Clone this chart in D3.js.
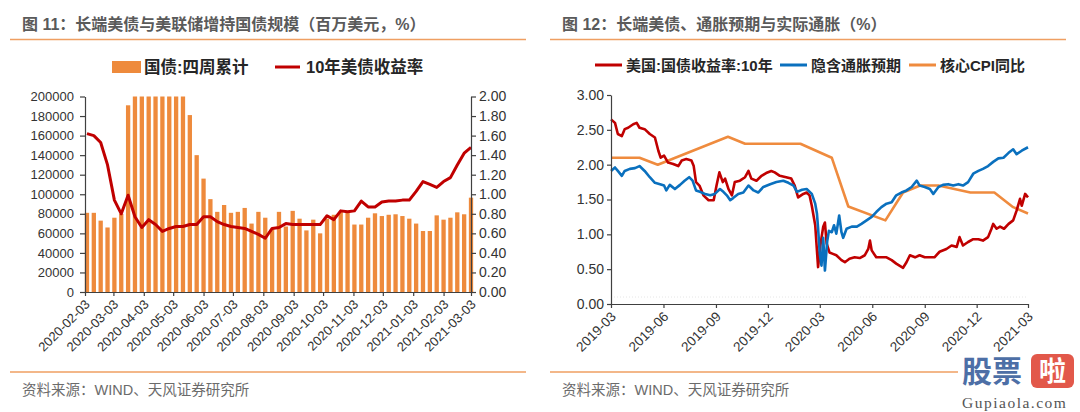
<!DOCTYPE html>
<html><head><meta charset="utf-8">
<script src="https://cdn.jsdelivr.net/npm/d3@7"></script>
<style>
html,body{margin:0;padding:0;background:#fff;}
svg{display:block;}
</style></head>
<body>
<svg id="c" width="1080" height="412"></svg>
<script>
// ---------- Chart 11 data ----------
const weekDates = ["2020-02-05","2020-02-12","2020-02-19","2020-02-26","2020-03-04","2020-03-11","2020-03-18","2020-03-25",
"2020-04-01","2020-04-08","2020-04-15","2020-04-22","2020-04-29","2020-05-06","2020-05-13","2020-05-20","2020-05-27",
"2020-06-03","2020-06-10","2020-06-17","2020-06-24","2020-07-01","2020-07-08","2020-07-15","2020-07-22","2020-07-29",
"2020-08-05","2020-08-12","2020-08-19","2020-08-26","2020-09-02","2020-09-09","2020-09-16","2020-09-23","2020-09-30",
"2020-10-07","2020-10-14","2020-10-21","2020-10-28","2020-11-04","2020-11-11","2020-11-18","2020-11-25","2020-12-02",
"2020-12-09","2020-12-16","2020-12-23","2020-12-30","2021-01-06","2021-01-13","2021-01-20","2021-01-27","2021-02-03",
"2021-02-10","2021-02-17","2021-02-24","2021-03-03"];
const treasury4w = [81000,81000,73000,66000,76000,80000,191000,200000,200000,200000,200000,200000,200000,200000,200000,
181000,140000,116000,95000,82000,89000,81000,82000,86000,70000,82000,76000,64000,82000,67000,83000,75000,63000,74000,60000,
75000,79000,82000,82000,69000,69000,76000,80500,77700,79000,79500,77700,75000,70000,62400,62400,78400,74000,76000,81500,79500,96500];
const yield10w = [1.62,1.60,1.53,1.30,0.94,0.80,0.99,0.77,0.66,0.74,0.69,0.62,0.65,0.67,0.67,0.69,0.69,0.77,0.77,0.72,
0.69,0.67,0.66,0.65,0.62,0.59,0.55,0.65,0.66,0.70,0.69,0.69,0.69,0.69,0.69,0.78,0.74,0.83,0.82,0.83,0.93,0.87,0.87,0.92,
0.93,0.93,0.94,0.94,1.03,1.13,1.10,1.07,1.13,1.17,1.30,1.42,1.48];
const leftYTicks = [0,20000,40000,60000,80000,100000,120000,140000,160000,180000,200000];
const rightYTicks = [0,0.2,0.4,0.6,0.8,1.0,1.2,1.4,1.6,1.8,2.0];
const leftXTicks = ["2020-02-03","2020-03-03","2020-04-03","2020-05-03","2020-06-03","2020-07-03","2020-08-03",
"2020-09-03","2020-10-03","2020-11-03","2020-12-03","2021-01-03","2021-02-03","2021-03-03"];

// ---------- Chart 12 data ----------
const ustDates = ["2019-03-01","2019-03-08","2019-03-13","2019-03-20","2019-03-25","2019-03-31","2019-04-09","2019-04-15",
"2019-04-20","2019-04-29","2019-05-08","2019-05-17","2019-05-23","2019-05-27","2019-06-02","2019-06-09","2019-06-18",
"2019-06-27","2019-07-03","2019-07-11","2019-07-20","2019-07-24","2019-07-28","2019-08-03","2019-08-10","2019-08-19",
"2019-08-28","2019-09-02","2019-09-07","2019-09-13","2019-09-17","2019-09-23","2019-09-29","2019-10-04","2019-10-13",
"2019-10-22","2019-10-28","2019-11-02","2019-11-11","2019-11-20","2019-11-28","2019-12-07","2019-12-13","2019-12-22",
"2020-01-02","2020-01-11","2020-01-17","2020-01-23","2020-02-01","2020-02-07","2020-02-12","2020-02-16","2020-02-22",
"2020-02-27","2020-03-02","2020-03-07","2020-03-10","2020-03-13","2020-03-18","2020-03-24","2020-03-30","2020-04-08",
"2020-04-14","2020-04-22","2020-05-01","2020-05-10","2020-05-19","2020-05-25","2020-05-28","2020-05-31","2020-06-08",
"2020-06-17","2020-06-26","2020-07-05","2020-07-13","2020-07-25","2020-07-31","2020-08-06","2020-08-15","2020-08-23",
"2020-09-01","2020-09-10","2020-09-18","2020-09-27","2020-10-09","2020-10-18","2020-10-27","2020-11-01","2020-11-07",
"2020-11-16","2020-11-25","2020-12-04","2020-12-12","2020-12-21","2020-12-27","2020-12-30","2021-01-05","2021-01-11",
"2021-01-18","2021-01-26","2021-02-03","2021-02-09","2021-02-15","2021-02-18","2021-02-24","2021-03-01"];
const ustVals = [2.65,2.60,2.44,2.41,2.51,2.53,2.58,2.60,2.53,2.51,2.44,2.39,2.20,2.10,2.13,2.03,2.01,1.98,2.06,2.08,2.06,
1.98,1.75,1.70,1.56,1.49,1.49,1.70,1.89,1.75,1.80,1.65,1.56,1.75,1.77,1.82,1.91,1.80,1.77,1.84,1.88,1.91,1.89,1.84,1.82,
1.80,1.70,1.53,1.58,1.60,1.56,1.41,1.13,0.53,0.84,1.11,1.17,0.87,0.74,0.72,0.70,0.63,0.60,0.65,0.67,0.66,0.70,0.79,0.91,
0.77,0.67,0.67,0.67,0.63,0.58,0.52,0.60,0.70,0.67,0.70,0.67,0.67,0.67,0.75,0.79,0.84,0.82,0.96,0.84,0.89,0.93,0.93,0.91,
0.96,1.08,1.15,1.08,1.11,1.08,1.15,1.20,1.34,1.51,1.41,1.58,1.53];
const bkeDates = ["2019-03-01","2019-03-08","2019-03-13","2019-03-20","2019-03-25","2019-04-03","2019-04-12","2019-04-20",
"2019-04-29","2019-05-08","2019-05-17","2019-05-26","2019-06-02","2019-06-06","2019-06-12","2019-06-21","2019-06-30",
"2019-07-08","2019-07-16","2019-07-22","2019-07-28","2019-08-04","2019-08-13","2019-08-22","2019-08-30","2019-09-08",
"2019-09-14","2019-09-20","2019-09-26","2019-10-01","2019-10-10","2019-10-19","2019-10-28","2019-11-06","2019-11-14",
"2019-11-23","2019-12-05","2019-12-16","2019-12-28","2020-01-06","2020-01-15","2020-01-21","2020-01-30","2020-02-07",
"2020-02-16","2020-02-22","2020-02-25","2020-02-27","2020-03-01","2020-03-04","2020-03-07","2020-03-10","2020-03-14",
"2020-03-17","2020-03-22","2020-03-26","2020-03-30","2020-04-04","2020-04-08","2020-04-11","2020-04-17","2020-04-26",
"2020-05-05","2020-05-13","2020-05-22","2020-05-31","2020-06-08","2020-06-17","2020-06-26","2020-07-05","2020-07-13",
"2020-07-22","2020-07-31","2020-08-09","2020-08-18","2020-08-23","2020-09-01","2020-09-10","2020-09-16","2020-09-25",
"2020-10-03","2020-10-12","2020-10-21","2020-10-30","2020-11-07","2020-11-16","2020-11-25","2020-12-04","2020-12-12",
"2020-12-21","2020-12-30","2021-01-08","2021-01-17","2021-01-26","2021-02-03","2021-02-09","2021-02-18","2021-03-01"];
const bkeVals = [1.91,1.96,1.91,1.84,1.91,1.94,1.95,1.98,1.91,1.82,1.74,1.72,1.70,1.63,1.71,1.65,1.71,1.77,1.82,1.77,1.63,
1.61,1.58,1.56,1.58,1.65,1.61,1.56,1.49,1.52,1.58,1.60,1.70,1.63,1.60,1.68,1.72,1.75,1.77,1.74,1.70,1.61,1.64,1.65,1.58,
1.44,1.30,1.09,0.72,0.55,0.95,0.48,0.90,1.05,1.03,1.13,1.01,1.27,1.03,0.95,1.08,1.11,1.11,1.15,1.20,1.25,1.32,1.39,1.44,
1.46,1.56,1.60,1.63,1.68,1.77,1.70,1.68,1.65,1.58,1.68,1.71,1.72,1.70,1.72,1.70,1.75,1.87,1.91,1.94,1.98,2.04,2.09,2.10,
2.17,2.22,2.15,2.20,2.25];
const cpiDates = ["2019-03-01","2019-04-20","2019-05-22","2019-09-22","2019-10-22","2020-01-27","2020-03-22","2020-04-20",
"2020-06-24","2020-07-25","2020-08-24","2020-09-25","2020-11-20","2021-01-01","2021-02-03","2021-03-01"];
const cpiVals = [2.10,2.10,2.00,2.40,2.30,2.30,2.10,1.40,1.20,1.60,1.70,1.70,1.60,1.60,1.39,1.30];
const rYTicks = [0,0.5,1.0,1.5,2.0,2.5,3.0];
const rXTicks = ["2019-03","2019-06","2019-09","2019-12","2020-03","2020-06","2020-09","2020-12","2021-03"];

// ---------- drawing ----------
const parse = d3.timeParse("%Y-%m-%d");
const parseM = d3.timeParse("%Y-%m");
const FONT = "'Liberation Sans', 'Noto Sans CJK SC', Arial, sans-serif";
const ORANGE = "#EE8A3C", RED = "#C00000", BLUE = "#0A70BE", RULE = "#EF9F62";
const svg = d3.select("#c");
svg.append("rect").attr("width",1080).attr("height",412).attr("fill","#fff");

function styleAxis(g, size){
  g.attr("font-family", FONT).attr("font-size", size);
  g.selectAll("path.domain").attr("stroke","#404040").attr("stroke-width",1.2);
  g.selectAll(".tick line").attr("stroke","#404040").attr("stroke-width",1.2);
  g.selectAll(".tick text").attr("fill","#333");
}
function header(x0, title, ruleX1){
  svg.append("text").attr("x", x0+12).attr("y", 30).attr("font-family", FONT).attr("font-size", 16)
    .attr("font-weight","bold").attr("fill","#5a5a5a").text(title);
  svg.append("line").attr("x1", x0).attr("x2", ruleX1).attr("y1", 39.5).attr("y2", 39.5)
    .attr("stroke", RULE).attr("stroke-width", 1.5);
}
function footer(x0, ruleX1){
  svg.append("line").attr("x1", x0).attr("x2", ruleX1).attr("y1", 372).attr("y2", 372)
    .attr("stroke", RULE).attr("stroke-width", 1.5);
  svg.append("text").attr("x", x0+12).attr("y", 395).attr("font-family", FONT).attr("font-size", 14.5)
    .attr("fill","#6b6b6b").text("资料来源：WIND、天风证券研究所");
}

// ===== Chart 11 =====
header(10, "图 11：长端美债与美联储增持国债规模（百万美元，%）", 526);
footer(10, 526);
const xL = d3.scaleTime().domain([parse("2020-02-03"), parse("2021-03-03")]).range([85, 471]);
const yL = d3.scaleLinear().domain([0, 200000]).range([292, 96.5]);
const yLR = d3.scaleLinear().domain([0, 2]).range([292, 96.5]);
const barW = 4.3;
svg.append("g").selectAll("rect").data(weekDates.map((d,i)=>({d:parse(d), v:treasury4w[i]}))).join("rect")
  .attr("x", d=>xL(d.d)-barW/2).attr("width", barW)
  .attr("y", d=>yL(d.v)).attr("height", d=>yL(0)-yL(d.v)).attr("fill", ORANGE);
svg.append("path").datum(weekDates.map((d,i)=>({d:parse(d), v:yield10w[i]})))
  .attr("fill","none").attr("stroke",RED).attr("stroke-width",3).attr("stroke-linejoin","round")
  .attr("d", d3.line().x(d=>xL(d.d)).y(d=>yLR(d.v)));
const gL = svg.append("g").attr("transform","translate(85,0)")
  .call(d3.axisLeft(yL).tickValues(leftYTicks).tickSize(5).tickSizeOuter(0).tickPadding(6).tickFormat(d3.format("d")));
styleAxis(gL, 13);
const gR = svg.append("g").attr("transform","translate(471,0)")
  .call(d3.axisRight(yLR).tickValues(rightYTicks).tickSize(5).tickSizeOuter(0).tickPadding(3).tickFormat(d3.format(".2f")));
styleAxis(gR, 14);
const gB = svg.append("g").attr("transform","translate(0,292)")
  .call(d3.axisBottom(xL).tickValues(leftXTicks.map(parse)).tickSize(4).tickSizeOuter(0).tickFormat(d3.timeFormat("%Y-%m-%d")));
styleAxis(gB, 13);
gB.selectAll(".tick text").attr("text-anchor","end").attr("x",0).attr("y",0).attr("dy","0.35em")
  .attr("transform","translate(2,10) rotate(-45)");
// legend
const lg1 = svg.append("g").attr("font-family", FONT).attr("font-size", 16.5).attr("font-weight","bold").attr("fill","#262626");
lg1.append("rect").attr("x",112).attr("y",61).attr("width",29).attr("height",12).attr("fill",ORANGE);
lg1.append("text").attr("x",144).attr("y",73).text("国债:四周累计");
lg1.append("line").attr("x1",275).attr("x2",300).attr("y1",67).attr("y2",67).attr("stroke",RED).attr("stroke-width",3);
lg1.append("text").attr("x",306).attr("y",73).text("10年美债收益率");

// ===== Chart 12 =====
header(550, "图 12：长端美债、通胀预期与实际通胀（%）", 1066);
footer(550, 958);
const x2 = d3.scaleTime().domain([parse("2019-03-01"), parse("2021-03-01")]).range([611, 1028]);
const y2 = d3.scaleLinear().domain([0, 3]).range([304, 95]);
svg.append("line").attr("x1",611).attr("x2",1028).attr("y1",297).attr("y2",297)
  .attr("stroke","#e6e6e6").attr("stroke-dasharray","1,2");
const line2 = d3.line().x(d=>x2(d.d)).y(d=>y2(d.v));
function series(dates, vals, color, w){
  svg.append("path").datum(dates.map((d,i)=>({d:parse(d), v:vals[i]})))
    .attr("fill","none").attr("stroke",color).attr("stroke-width",w).attr("stroke-linejoin","round")
    .attr("d", line2);
}
series(cpiDates, cpiVals, "#EF8B3E", 2.6);
series(ustDates, ustVals, RED, 2.6);
series(bkeDates, bkeVals, BLUE, 2.6);
const g2L = svg.append("g").attr("transform","translate(611,0)")
  .call(d3.axisLeft(y2).tickValues(rYTicks).tickSize(4).tickSizeOuter(0).tickPadding(3).tickFormat(d3.format(".2f")));
styleAxis(g2L, 14);
const g2B = svg.append("g").attr("transform","translate(0,304)")
  .call(d3.axisBottom(x2).tickValues(rXTicks.map(parseM)).tickSize(4).tickSizeOuter(0).tickFormat(d3.timeFormat("%Y-%m")));
styleAxis(g2B, 13.5);
g2B.selectAll(".tick text").attr("text-anchor","end").attr("x",0).attr("y",0).attr("dy","0.35em")
  .attr("transform","translate(2,10) rotate(-45)");
const lg2 = svg.append("g").attr("font-family", FONT).attr("font-size", 15).attr("font-weight","bold").attr("fill","#262626");
const items2 = [["美国:国债收益率:10年", RED, 595, 626],["隐含通胀预期", BLUE, 780, 811],["核心CPI同比", "#EF8B3E", 909, 940]];
items2.forEach(([t,c,lx,tx])=>{
  lg2.append("line").attr("x1",lx).attr("x2",lx+27).attr("y1",65).attr("y2",65).attr("stroke",c).attr("stroke-width",3);
  lg2.append("text").attr("x",tx).attr("y",70.5).text(t);
});

// watermark
const wm = svg.append("g");
wm.append("text").attr("x",962).attr("y",382).attr("font-family","'Noto Sans CJK SC'").attr("font-weight","bold")
  .attr("font-size",30).attr("fill","#4D6FA6").text("股票");
wm.append("rect").attr("x",1031).attr("y",354).attr("width",43).attr("height",34).attr("rx",6).attr("fill","#E2584A");
wm.append("text").attr("x",1052.5).attr("y",381).attr("text-anchor","middle").attr("font-family","'Noto Sans CJK SC'")
  .attr("font-weight","bold").attr("font-size",27).attr("fill","#fff").text("啦");
wm.append("text").attr("x",962).attr("y",408).attr("font-family","'Liberation Serif', 'DejaVu Serif', serif")
  .attr("font-size",15.5).attr("letter-spacing",1.5).attr("fill","#555").text("Gupiaola.com");
</script>
</body></html>
